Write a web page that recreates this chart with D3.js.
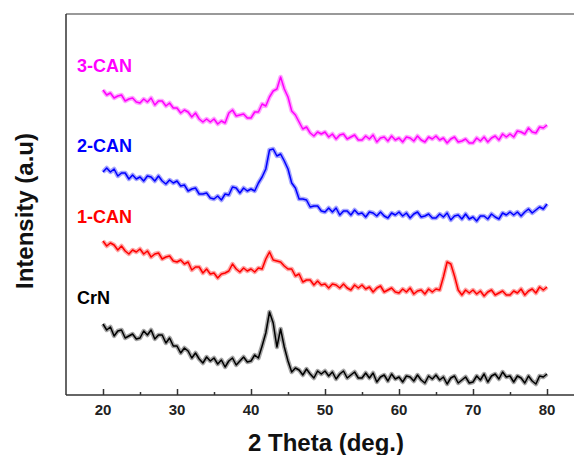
<!DOCTYPE html>
<html>
<head>
<meta charset="utf-8">
<script src="https://cdn.jsdelivr.net/npm/d3@7"></script>
<style>
  body { margin: 0; background: #fff; }
  svg { display: block; font-family: "Liberation Sans", Arial, sans-serif; font-weight: bold; }
</style>
</head>
<body>
<div id="chart"></div>
<script>
// 2 Theta grid, 20..80 deg in 0.5 deg steps
const twoTheta = d3.range(20, 80.001, 0.5);

// intensity (a.u.), traces stacked as in the figure
const crn = [
  71, 65, 68, 59, 64, 65, 57, 59, 61, 56,
  57, 64, 60, 65, 56, 60, 60, 52, 57, 49,
  49, 42, 47, 44, 37, 42, 36, 32, 38, 34,
  37, 31, 35, 28, 34, 37, 30, 34, 38, 33,
  34, 40, 37, 49, 62, 83, 72, 48, 66, 48,
  34, 23, 27, 25, 20, 26, 21, 17, 24, 21,
  24, 19, 23, 16, 21, 24, 17, 20, 23, 17,
  17, 22, 17, 22, 13, 18, 20, 14, 21, 16,
  18, 13, 19, 18, 14, 20, 15, 12, 19, 16,
  20, 15, 18, 11, 17, 19, 12, 15, 18, 12,
  13, 19, 15, 21, 13, 19, 21, 16, 23, 18,
  19, 13, 19, 17, 12, 19, 14, 11, 19, 18,
  21
];
const can1 = [
  154, 149, 152, 150, 145, 149, 144, 141, 145, 143,
  146, 141, 144, 138, 141, 142, 136, 138, 139, 134,
  133, 135, 131, 133, 125, 128, 128, 122, 126, 121,
  122, 117, 121, 122, 124, 131, 126, 123, 127, 124,
  126, 123, 127, 126, 136, 143, 135, 134, 133, 129,
  126, 126, 119, 121, 113, 115, 115, 110, 114, 110,
  111, 107, 111, 110, 107, 111, 107, 105, 110, 107,
  110, 106, 108, 103, 107, 109, 103, 105, 107, 103,
  102, 106, 103, 107, 101, 104, 105, 101, 106, 103,
  106, 105, 118, 133, 131, 119, 105, 100, 105, 102,
  105, 101, 104, 99, 103, 105, 100, 102, 104, 100,
  100, 104, 102, 106, 100, 104, 106, 102, 108, 105,
  108
];
const can2 = [
  223, 227, 223, 226, 219, 222, 222, 216, 220, 216,
  218, 214, 219, 218, 214, 219, 214, 211, 215, 212,
  214, 209, 210, 204, 206, 207, 201, 201, 202, 197,
  196, 199, 195, 201, 200, 208, 207, 202, 207, 204,
  206, 204, 212, 218, 226, 245, 246, 239, 241, 234,
  226, 212, 207, 196, 196, 195, 188, 189, 189, 184,
  183, 187, 183, 187, 180, 184, 184, 180, 185, 181,
  182, 178, 183, 182, 179, 183, 179, 177, 182, 180,
  183, 179, 182, 177, 181, 183, 178, 179, 181, 177,
  177, 181, 178, 182, 175, 179, 180, 176, 181, 176,
  178, 174, 179, 179, 176, 181, 178, 176, 182, 180,
  183, 180, 183, 179, 183, 186, 182, 185, 188, 186,
  191
];
const can3 = [
  305, 300, 302, 297, 299, 300, 294, 296, 297, 293,
  292, 296, 293, 297, 290, 294, 294, 289, 292, 287,
  287, 282, 285, 283, 278, 282, 276, 273, 276, 273,
  276, 271, 274, 272, 282, 285, 279, 280, 281, 277,
  277, 283, 283, 291, 289, 298, 304, 306, 318, 306,
  298, 284, 280, 273, 266, 268, 262, 259, 263, 261,
  263, 258, 261, 256, 260, 261, 256, 258, 260, 255,
  255, 259, 256, 260, 253, 257, 258, 254, 259, 255,
  257, 253, 258, 257, 254, 259, 255, 253, 258, 256,
  259, 255, 257, 252, 256, 258, 253, 254, 256, 252,
  252, 257, 254, 258, 253, 257, 259, 255, 261, 258,
  261, 258, 264, 263, 261, 267, 263, 262, 268, 267,
  270
];

const seriesNames = ["CrN", "1-CAN", "2-CAN", "3-CAN"];
const seriesColors = ["#000000", "#ff0000", "#0000ff", "#ff00ff"];
const seriesValues = [crn, can1, can2, can3];
const labelLevels = [91, 172, 243, 323]; // label baseline, in a.u.
const xTicks = [20, 30, 40, 50, 60, 70, 80];
const xMinorTicks = [25, 35, 45, 55, 65, 75];

const width = 574, height = 455;
const margin = { top: 14, left: 66, bottom: 60 };

const svg = d3.select("#chart").append("svg")
    .attr("width", width)
    .attr("height", height);

const xScale = d3.scaleLinear().domain([15, 85]).range([margin.left, margin.left + 70 * 7.4]);
const yScale = d3.scaleLinear().domain([0, 381]).range([height - margin.bottom, margin.top]);
const y0 = height - margin.bottom;

// frame
svg.append("line")
    .attr("x1", margin.left).attr("x2", width)
    .attr("y1", margin.top).attr("y2", margin.top)
    .attr("stroke", "#777").attr("stroke-width", 1.5);
svg.append("line")
    .attr("x1", margin.left).attr("x2", margin.left)
    .attr("y1", margin.top).attr("y2", y0)
    .attr("stroke", "#333").attr("stroke-width", 1.5);

// x axis, ticks pointing inward
const xAxis = svg.append("g")
    .attr("transform", `translate(0, ${y0})`)
    .call(d3.axisTop(xScale).tickValues(xTicks).tickSize(6).tickSizeOuter(0).tickFormat(""));
xAxis.select(".domain").attr("stroke", "#333").attr("stroke-width", 1.5)
    .attr("d", `M${margin.left},0H${width}`);
xAxis.selectAll(".tick line").attr("stroke", "#333").attr("stroke-width", 1.5);

svg.append("g")
    .attr("transform", `translate(0, ${y0})`)
    .call(d3.axisTop(xScale).tickValues(xMinorTicks).tickSize(3).tickFormat(""))
    .call(g => g.select(".domain").remove())
    .selectAll(".tick line").attr("stroke", "#333").attr("stroke-width", 1.5);

svg.append("g").selectAll("text")
    .data(xTicks).enter().append("text")
    .attr("x", d => xScale(d))
    .attr("y", y0 + 20)
    .attr("text-anchor", "middle")
    .attr("font-size", 15)
    .attr("fill", "#222")
    .text(d => d);

// axis titles
svg.append("text")
    .attr("x", 326).attr("y", 451)
    .attr("text-anchor", "middle")
    .attr("font-size", 24)
    .attr("fill", "#111")
    .text("2 Theta (deg.)");

svg.append("text")
    .attr("transform", "translate(33, 211) rotate(-90)")
    .attr("text-anchor", "middle")
    .attr("font-size", 24)
    .attr("fill", "#111")
    .text("Intensity (a.u)");

// traces: soft wide band under a thin line, like the noisy scan
const line = d3.line()
    .x((d, i) => xScale(twoTheta[i]))
    .y(d => yScale(d));

const traces = svg.append("g").selectAll("g")
    .data(seriesValues).enter().append("g");

traces.append("path")
    .attr("d", d => line(d))
    .attr("fill", "none")
    .attr("stroke", (d, i) => seriesColors[i])
    .attr("stroke-opacity", 0.35)
    .attr("stroke-width", 4.5)
    .attr("stroke-linejoin", "round");

traces.append("path")
    .attr("d", d => line(d))
    .attr("fill", "none")
    .attr("stroke", (d, i) => seriesColors[i])
    .attr("stroke-width", 1.5)
    .attr("stroke-linejoin", "round");

svg.append("g").selectAll("text")
    .data(seriesNames).enter().append("text")
    .attr("x", 77)
    .attr("y", (d, i) => yScale(labelLevels[i]))
    .attr("font-size", 18)
    .attr("fill", (d, i) => seriesColors[i])
    .text(d => d);
</script>
</body>
</html>
